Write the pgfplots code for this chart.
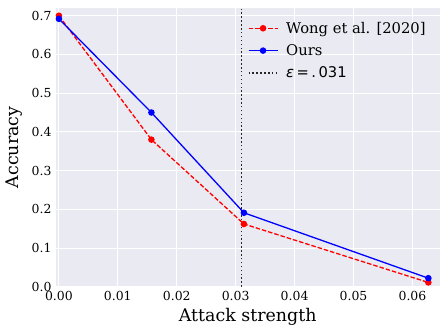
\documentclass[border=0pt]{standalone}
\usepackage{fontspec}
\setmainfont{DejaVu Serif}
\newfontfamily\dejasans{DejaVu Sans}
\usepackage{pgfplots}
\pgfplotsset{compat=1.18}
\definecolor{bgc}{HTML}{EAEAF2}
\pgfplotsset{mylegend/.style={legend image code/.code={\draw[mark repeat=2,mark phase=2,##1] plot coordinates {(0bp,0bp) (14.5bp,0bp) (29bp,0bp)};}}}
\begin{document}
\begin{tikzpicture}
\begin{axis}[
  at={(0,0)}, anchor=south west,
  scale only axis, width=384bp, height=279bp,
  xmin=-0.0005, xmax=0.0646, ymin=0, ymax=0.72,
  axis background/.style={fill=bgc},
  axis line style={draw=none},
  grid=major, major grid style={white, line width=0.9bp},
  tick style={draw=none},
  xtick={0,0.01,0.02,0.03,0.04,0.05,0.06},
  ytick={0,0.1,0.2,0.3,0.4,0.5,0.6,0.7},
  scaled x ticks=false, scaled y ticks=false,
  /pgf/number format/assume math mode=true,
  xticklabel style={/pgf/number format/fixed, /pgf/number format/fixed zerofill, /pgf/number format/precision=2, font=\fontsize{12.5}{14}\selectfont, yshift=-1bp},
  yticklabel style={/pgf/number format/fixed, /pgf/number format/fixed zerofill, /pgf/number format/precision=1, font=\fontsize{12.5}{14}\selectfont, xshift=-1bp},
  xlabel={Attack strength}, ylabel={Accuracy},
  label style={font=\fontsize{17.5}{20}\selectfont},
  xlabel style={yshift=-1bp},
  ylabel style={yshift=2bp},
  legend style={at={(0.492,0.965)}, anchor=north west, draw=none, fill=none, font=\fontsize{14.8}{17}\selectfont, row sep=5.8bp, column sep=6bp},
  legend cell align=left,
]
\addplot[red, dash pattern=on 4.5bp off 2bp, line width=1.3bp, mark=*, mark size=2.6bp, mark options={solid}, mylegend] coordinates {
(0,0.70) (0.0157,0.38) (0.0314,0.162) (0.0627,0.011)};
\addlegendentry{Wong et al. [2020]}
\addplot[blue, solid, line width=1.3bp, mark=*, mark size=2.6bp, mylegend] coordinates {
(0,0.692) (0.0157,0.45) (0.0314,0.191) (0.0627,0.022)};
\addlegendentry{Ours}
\addplot[black!85, dash pattern=on 1.5bp off 2.4bp, line width=1.4bp, mylegend] coordinates {(0.031,0) (0.031,0.72)};
\addlegendentry{{\dejasans\textit{ε}\,=\,.\,031}}
\end{axis}
\useasboundingbox (-56bp,-40bp) rectangle (384bp,287bp);
\end{tikzpicture}
\end{document}
